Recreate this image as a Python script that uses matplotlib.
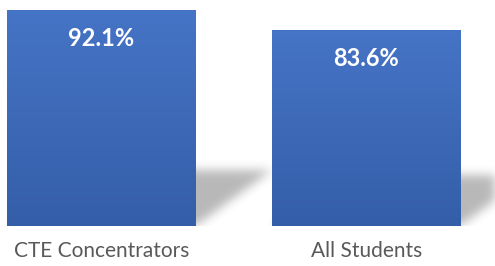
import numpy as np
import matplotlib.pyplot as plt
from matplotlib.path import Path
from matplotlib.colors import LinearSegmentedColormap

# data
categories = ['CTE Concentrators', 'All Students']
values = [92.1, 83.6]
value_labels = ['92.1%', '83.6%']

plt.rcParams['font.family'] = ['Lato', 'DejaVu Sans']

fig = plt.figure(figsize=(4.95, 2.66), dpi=100)
ax = fig.add_axes([0, 1 - 226 / 266, 1, 226 / 266])
xlim = (-0.383, 1.485)
ylim = (0, 96.36)
ax.set_xlim(*xlim)
ax.set_ylim(*ylim)
width = 0.713
x = np.arange(len(categories))

bars = ax.bar(x, values, width=width, color='#3d69b8', zorder=3)

# vertical gradient inside each bar
grad = LinearSegmentedColormap.from_list('g', ['#345ea8', '#4674c6'])
for b in bars:
    x0, y0 = b.get_x(), b.get_y()
    w, h = b.get_width(), b.get_height()
    im = ax.imshow(np.linspace(0, 1, 256).reshape(-1, 1), cmap=grad, aspect='auto',
                   origin='lower', extent=(x0, x0 + w, y0, y0 + h), zorder=4)
    im.set_clip_path(b)

# perspective shadow behind the bars (blurred parallelogram)
nx, ny = 495, 226
gx = np.linspace(xlim[0], xlim[1], nx)
gy = np.linspace(ylim[0], ylim[1], ny)
GX, GY = np.meshgrid(gx, gy)
pts = np.column_stack([GX.ravel(), GY.ravel()])
mask = np.zeros(nx * ny)
for b in bars:
    x0, w, h = b.get_x(), b.get_width(), b.get_height()
    dx = 0.29 * h / values[0]
    sh = h * 0.26
    poly = Path([(x0, 0), (x0 + w, 0), (x0 + w + dx, sh), (x0 + dx, sh), (x0, 0)])
    mask = np.maximum(mask, poly.contains_points(pts).astype(float))
mask = mask.reshape(ny, nx)
k = np.arange(-15, 16)
kern = np.exp(-k ** 2 / (2 * 5.0 ** 2))
kern /= kern.sum()
mask = np.apply_along_axis(lambda r: np.convolve(r, kern, mode='same'), 1, mask)
mask = np.apply_along_axis(lambda c: np.convolve(c, kern, mode='same'), 0, mask)
rgba = np.zeros((ny, nx, 4))
rgba[..., 3] = mask * 0.28
ax.imshow(rgba, origin='lower', aspect='auto', extent=(*xlim, *ylim), zorder=1,
          interpolation='bilinear')

for xi, v, lab in zip(x, values, value_labels):
    ax.annotate(lab, (xi, v), xytext=(0, -12), textcoords='offset points',
                ha='center', va='top', color='white', fontsize=17, fontweight='bold',
                zorder=6)

ax.set_xticks(x, categories)
ax.tick_params(axis='x', length=0, pad=10.5, labelsize=15, labelcolor='#595959')
ax.set_yticks([])
for s in ax.spines.values():
    s.set_visible(False)
ax.patch.set_alpha(0)

fig.savefig('out.png', dpi=100)
